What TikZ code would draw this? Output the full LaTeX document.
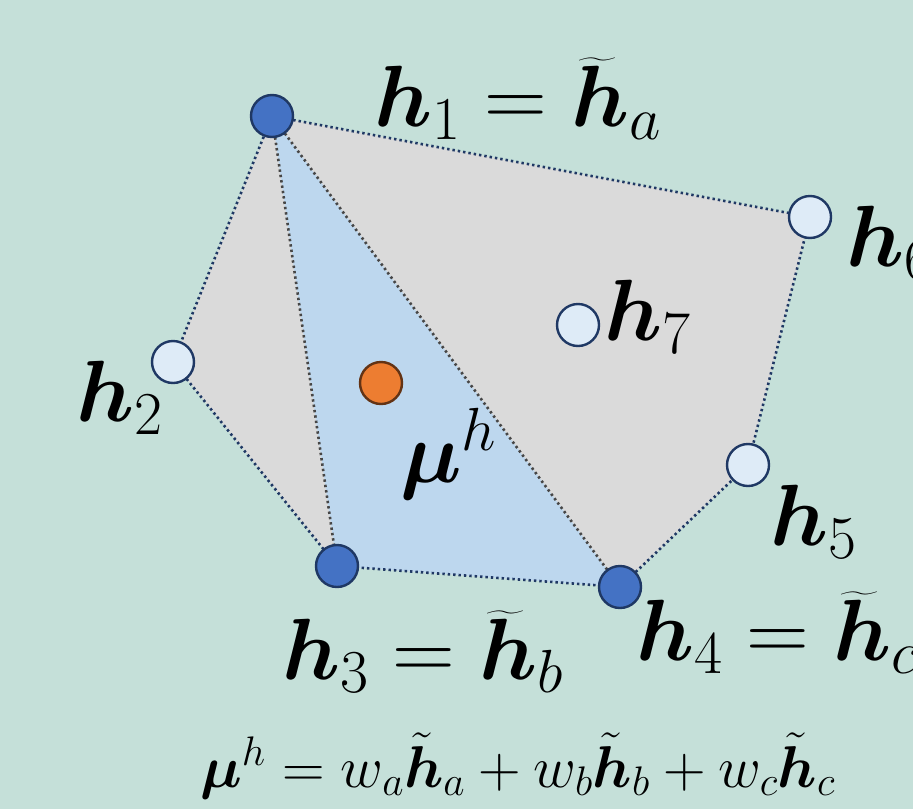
\documentclass[tikz,border=0pt]{standalone}
\usepackage{fix-cm}
\usepackage{amsmath,bm}
\definecolor{bgc}{RGB}{197,224,217}
\definecolor{grayfill}{RGB}{218,218,218}
\definecolor{bluefill}{RGB}{189,215,238}
\definecolor{dotblue}{RGB}{68,114,196}
\definecolor{navy}{RGB}{31,56,100}
\definecolor{lightfill}{RGB}{222,235,247}
\definecolor{orangefill}{RGB}{237,125,49}
\definecolor{orangeedge}{RGB}{99,51,20}
\definecolor{inneredge}{RGB}{70,70,70}
\begin{document}
\begin{tikzpicture}[x=1pt,y=-1pt,
  pt/.style={circle,minimum size=42pt,inner sep=0pt,line width=2.4pt,draw=navy},
  solidpt/.style={pt,fill=dotblue},
  openpt/.style={pt,fill=lightfill},
  meanpt/.style={pt,fill=orangefill,draw=orangeedge},
  outer/.style={draw=navy,line width=2.6pt,dash pattern=on 2.4pt off 3pt},
  inner/.style={draw=inneredge,line width=2.6pt,dash pattern=on 2.4pt off 3pt},
  lbl/.style={anchor=base west,inner sep=0pt,font=\fontsize{87}{96}\selectfont},
  formula/.style={anchor=base west,inner sep=0pt,font=\fontsize{59}{66}\selectfont}]
\path[use as bounding box] (0,0) rectangle (913,809);
\fill[bgc] (0,0) rectangle (913,809);
\begin{scope}
\clip (0,0) rectangle (913,809);
\coordinate (c1) at (272,116);
\coordinate (c6) at (810,217);
\coordinate (c7) at (578,325);
\coordinate (c2) at (173,362);
\coordinate (cm) at (381,383);
\coordinate (c5) at (748,465);
\coordinate (c3) at (337,566);
\coordinate (c4) at (620,587);
\fill[grayfill] (c1) -- (c6) -- (c5) -- (c4) -- (c3) -- (c2) -- cycle;
\fill[bluefill] (c1) -- (c3) -- (c4) -- cycle;
\draw[outer] (c1) -- (c6) -- (c5) -- (c4) -- (c3) -- (c2) -- cycle;
\draw[inner] (c1) -- (c3);
\draw[inner] (c1) -- (c4);
\node[solidpt] (h1) at (c1) {};
\node[openpt] (h6) at (c6) {};
\node[openpt] (h7) at (c7) {};
\node[openpt] (h2) at (c2) {};
\node[meanpt] (mu) at (cm) {};
\node[openpt] (h5) at (c5) {};
\node[solidpt] (h3) at (c3) {};
\node[solidpt] (h4) at (c4) {};
\node[lbl] (l1) at (374,126) {$\bm{h}_1=\widetilde{\bm{h}}_a$};
\node[lbl] (l6) at (846,266) {$\bm{h}_6$};
\node[lbl] (l7) at (604,340) {$\bm{h}_7$};
\node[lbl] (l2) at (76,421) {$\bm{h}_2$};
\node[lbl] (lm) at (400,482) {$\bm{\mu}^h$};
\node[lbl] (l5) at (770,545) {$\bm{h}_5$};
\node[lbl] (l3) at (282,679) {$\bm{h}_3=\widetilde{\bm{h}}_b$};
\node[lbl] (l4) at (636,660) {$\bm{h}_4=\widetilde{\bm{h}}_c$};
\node[formula] (f) at (200,787) {$\bm{\mu}^h=w_a\tilde{\bm{h}}_a+w_b\tilde{\bm{h}}_b+w_c\tilde{\bm{h}}_c$};
\end{scope}
\end{tikzpicture}
\end{document}
